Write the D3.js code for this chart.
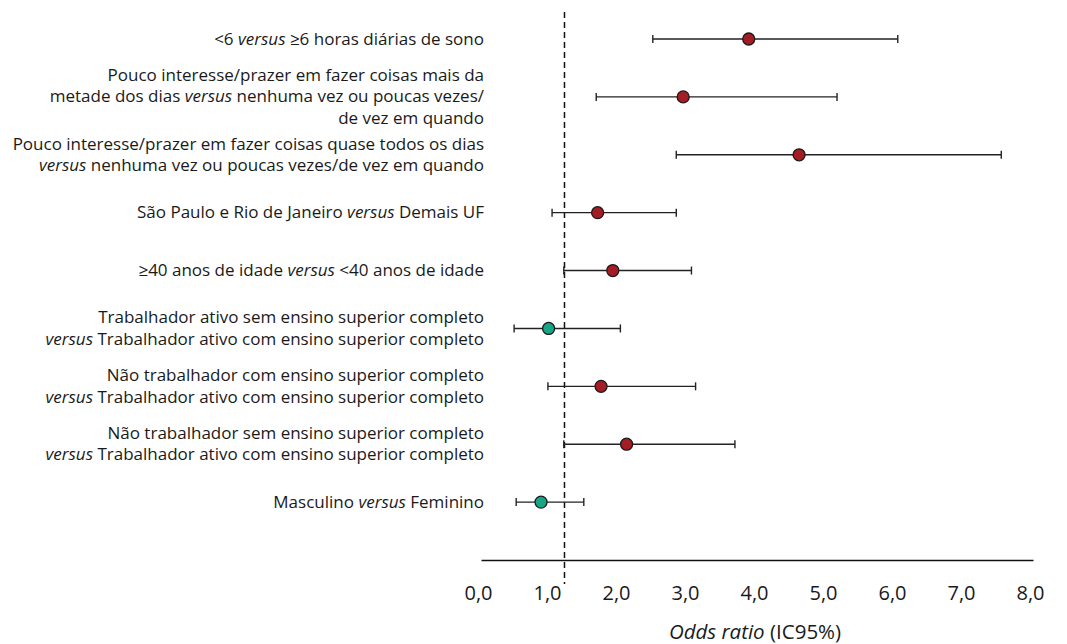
<!DOCTYPE html>
<html>
<head>
<meta charset="utf-8">
<script src="https://cdn.jsdelivr.net/npm/d3@7"></script>
<style>
  body { margin: 0; background: #fff; }
  svg text { font-family: "Open Sans", sans-serif; fill: #1a1a1a; }
</style>
</head>
<body>
<div id="chart"></div>
<script>
// labels: one string per line, _versus_ marks italic text
var labels = [
  ["<6 _versus_ ≥6 horas diárias de sono"],
  ["Pouco interesse/prazer em fazer coisas mais da", "metade dos dias _versus_ nenhuma vez ou poucas vezes/", "de vez em quando"],
  ["Pouco interesse/prazer em fazer coisas quase todos os dias", "_versus_ nenhuma vez ou poucas vezes/de vez em quando"],
  ["São Paulo e Rio de Janeiro _versus_ Demais UF"],
  ["≥40 anos de idade _versus_ <40 anos de idade"],
  ["Trabalhador ativo sem ensino superior completo", "_versus_ Trabalhador ativo com ensino superior completo"],
  ["Não trabalhador com ensino superior completo", "_versus_ Trabalhador ativo com ensino superior completo"],
  ["Não trabalhador sem ensino superior completo", "_versus_ Trabalhador ativo com ensino superior completo"],
  ["Masculino _versus_ Feminino"]
];
var oddsRatio = [3.88, 2.93, 4.61, 1.69, 1.91, 0.98, 1.74, 2.11, 0.87];
var ciLow     = [2.49, 1.67, 2.83, 1.03, 1.20, 0.48, 0.97, 1.20, 0.51];
var ciHigh    = [6.04, 5.16, 7.54, 2.83, 3.05, 2.02, 3.11, 3.68, 1.49];
var significant = [true, true, true, true, true, false, true, true, false];
var tickValues = [0, 1, 2, 3, 4, 5, 6, 7, 8];
var refLine = 1.21;

var width = 1067, height = 644;
var svg = d3.select('#chart').append('svg').attr('width', width).attr('height', height);

var x = d3.scaleLinear().domain([0, 8]).range([481, 1033]);
var y = d3.scaleLinear().domain([0, 9]).range([39, 560]);

// reference line
svg.append('line')
  .attr('x1', x(refLine)).attr('x2', x(refLine))
  .attr('y1', 12).attr('y2', 584)
  .attr('stroke', '#111').attr('stroke-width', 1.5)
  .attr('stroke-dasharray', '6,4');

// x axis
var axis = d3.axisBottom(x).tickValues(tickValues).tickSize(0).tickPadding(26)
  .tickFormat(function (d) { return d3.format('.1f')(d).replace('.', ','); });
var gx = svg.append('g').attr('transform', 'translate(0,' + y(9) + ')').call(axis);
gx.select('.domain').attr('stroke', '#111').attr('stroke-width', 1.3);
gx.selectAll('text').style('font-size', '20px').attr('fill', '#1a1a1a').attr('dx', '-3');

var title = svg.append('text').attr('x', 755).attr('y', 639).attr('text-anchor', 'middle')
  .style('font-size', '20.5px');
title.append('tspan').style('font-style', 'italic').text('Odds ratio');
title.append('tspan').text(' (IC95%)');

// rows
var rows = svg.selectAll('g.row').data(d3.range(labels.length)).enter()
  .append('g').attr('class', 'row');

rows.append('line')
  .attr('x1', function (i) { return x(ciLow[i]); })
  .attr('x2', function (i) { return x(ciHigh[i]); })
  .attr('y1', function (i) { return y(i); })
  .attr('y2', function (i) { return y(i); })
  .attr('stroke', '#222').attr('stroke-width', 1.4);

[ciLow, ciHigh].forEach(function (arr) {
  rows.append('line')
    .attr('x1', function (i) { return x(arr[i]); })
    .attr('x2', function (i) { return x(arr[i]); })
    .attr('y1', function (i) { return y(i) - 4; })
    .attr('y2', function (i) { return y(i) + 4; })
    .attr('stroke', '#222').attr('stroke-width', 1.4);
});

rows.append('circle')
  .attr('cx', function (i) { return x(oddsRatio[i]); })
  .attr('cy', function (i) { return y(i); })
  .attr('r', 6)
  .attr('fill', function (i) { return significant[i] ? '#a51d24' : '#16a585'; })
  .attr('stroke', '#1a1a1a').attr('stroke-width', 1.3);

var lineH = 21.5;
rows.each(function (i) {
  var lines = labels[i];
  var g = d3.select(this);
  lines.forEach(function (ln, k) {
    var yy = y(i) + (k - (lines.length - 1) / 2) * lineH + 5.5;
    var t = g.append('text')
      .attr('text-anchor', 'end')
      .attr('x', 484).attr('y', yy)
      .style('font-size', '17px');
    ln.split('_').forEach(function (p, j) {
      if (!p) return;
      var ts = t.append('tspan').text(p);
      if (j % 2 === 1) ts.style('font-style', 'italic');
    });
  });
});
</script>
</body>
</html>
